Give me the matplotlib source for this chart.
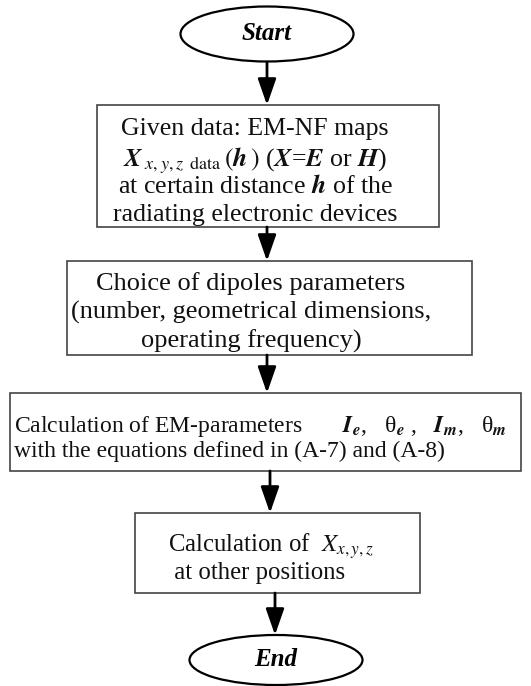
import matplotlib
matplotlib.use("Agg")
import matplotlib.pyplot as plt
from matplotlib.patches import Rectangle, Ellipse

plt.rcParams['font.family'] = ['Liberation Serif', 'DejaVu Serif']
plt.rcParams['mathtext.fontset'] = 'stix'

# node texts
start_label = "Start"
end_label = "End"
box_lines = [
    ["Given data: EM-NF maps",
     r"$\mathbfit{X}_{\;x,y,z\;\;\mathrm{data}}\,(\mathbfit{h}\,)$ ($\mathbfit{X}$=$\mathbfit{E}$ or $\mathbfit{H}$)",
     r"at certain distance $\mathbfit{h}$ of the",
     "radiating electronic devices"],
    ["Choice of dipoles parameters",
     "(number, geometrical dimensions,",
     "operating frequency)"],
    [r"Calculation of EM-parameters       $\mathbfit{I}_{\mathbfit{e}}$,   θ$_{\mathbfit{e}}$ ,   $\mathbfit{I}_{\mathbfit{m}}$,   θ$_{\mathbfit{m}}$",
     "with the equations defined in (A-7) and (A-8)"],
    [r"Calculation of  $X_{x,y,z}$",
     " at other positions"],
]

# layout in pixels
box_rects = [(97, 105, 439, 227), (67, 261, 472, 355), (10, 393, 521, 471), (135, 513, 420, 593)]
box_text_y = [[127, 156, 184, 212], [281, 310, 339], [423, 449], [541, 571]]
box_text_x = [255, 251, 14, 168]
box_ha = ['center', 'center', 'left', 'left']
box_fs = [18.6, 19, 17, 17.8]
start_ell = (267, 34, 173, 55)
end_ell = (276, 660, 173, 50)
arrows = [(267, 62, 105), (267, 227, 261), (267, 355, 393), (270, 471, 513), (275, 593, 635)]

fig = plt.figure(figsize=(5.31, 6.86), dpi=100)
ax = fig.add_axes([0, 0, 1, 1])
ax.set_xlim(0, 531)
ax.set_ylim(686, 0)
ax.axis('off')

for (cx, cy, w, h), lab in [(start_ell, start_label), (end_ell, end_label)]:
    ax.add_patch(Ellipse((cx, cy), w, h, fill=False, lw=1.6, ec='black'))
    ax.text(cx, cy, lab, ha='center', va='center', fontsize=18,
            fontweight='bold', fontstyle='italic')

for (x0, y0, x1, y1), lines, ys, tx, ha, fs in zip(box_rects, box_lines, box_text_y,
                                                   box_text_x, box_ha, box_fs):
    ax.add_patch(Rectangle((x0, y0), x1 - x0, y1 - y0, fill=False, lw=1.2, ec='#444444'))
    for t, y in zip(lines, ys):
        ax.text(tx, y, t, ha=ha, va='center_baseline', fontsize=fs, color='#111111')

for x, ya, yb in arrows:
    ax.annotate('', xy=(x, yb), xytext=(x, ya),
                arrowprops=dict(arrowstyle='-|>,head_length=0.8,head_width=0.28',
                                mutation_scale=20, lw=2, color='black',
                                shrinkA=0, shrinkB=0))

fig.savefig("out.png", dpi=100)
